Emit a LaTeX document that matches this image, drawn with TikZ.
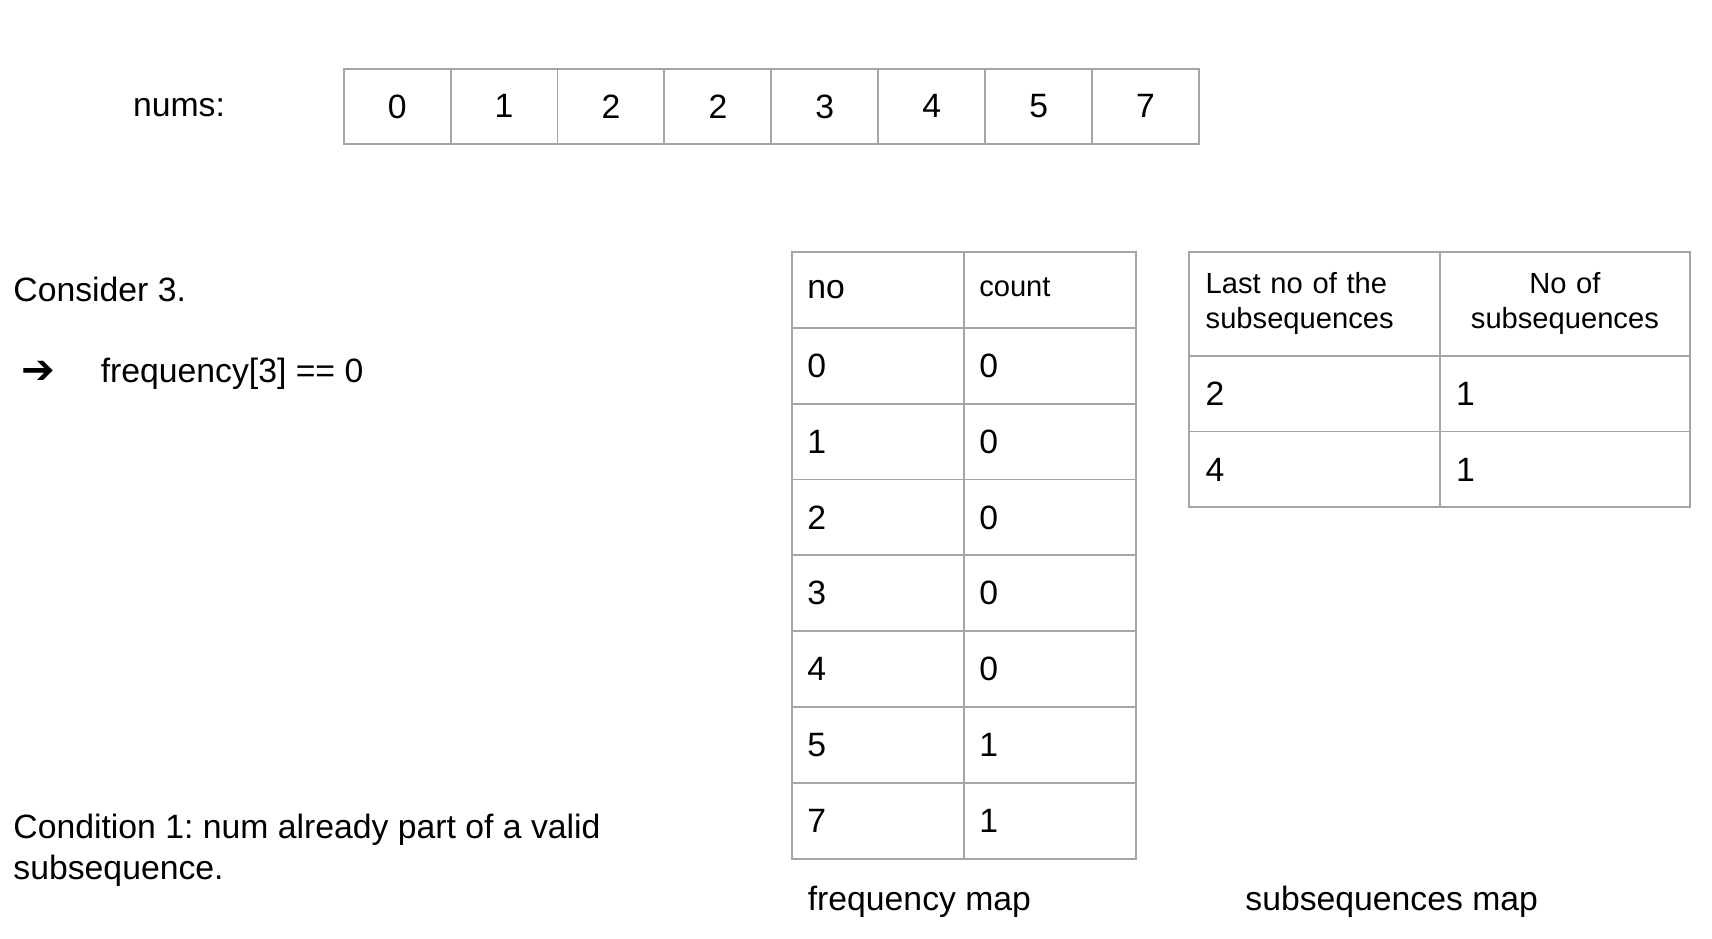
\documentclass[tikz,border=0pt]{standalone}
\usepackage{fontspec}
\setmainfont{Liberation Sans}
\newfontfamily\arrowfont{DejaVu Sans}
\usetikzlibrary{positioning}

\definecolor{gridgray}{RGB}{165,165,165}
\newcommand{\bigtext}{\fontsize{17.6}{21.6}\selectfont}
\newcommand{\smalltext}{\fontsize{15.2}{18.2}\selectfont}
\frenchspacing

\tikzset{
    label text/.style={inner sep=0pt, anchor=west, font=\bigtext},
    numcell/.style={draw=gridgray, line width=1pt, outer sep=0pt, inner sep=0pt,
        minimum width=1.96cm, minimum height=1.38cm, font=\bigtext},
    freqcell/.style={draw=gridgray, line width=1pt, outer sep=0pt, inner ysep=0pt,
        inner xsep=0.28cm, text width=2.59cm, align=left, minimum height=1.39cm, font=\bigtext},
    subcell/.style={draw=gridgray, line width=1pt, outer sep=0pt, inner ysep=0pt,
        inner xsep=0.3cm, text width=3.99cm, align=left, minimum height=1.39cm, font=\bigtext},
}

\begin{document}
\begin{tikzpicture}[x=0.02cm, y=-0.02cm, node distance=0pt]
    \useasboundingbox (0,0) rectangle (1569,860);

    % nums array
    \node[inner sep=0pt, font=\bigtext]         at (164,99)    (nums)   {nums:};
    \node[numcell, anchor=north west]           at (315,63)    (num 0)  {0};
    \node[numcell, right=of num 0]                             (num 1)  {1};
    \node[numcell, right=of num 1]                             (num 2)  {2};
    \node[numcell, right=of num 2]                             (num 3)  {2};
    \node[numcell, right=of num 3]                             (num 4)  {3};
    \node[numcell, right=of num 4]                             (num 5)  {4};
    \node[numcell, right=of num 5]                             (num 6)  {5};
    \node[numcell, right=of num 6]                             (num 7)  {7};

    % left notes
    \node[label text]                           at (12,265)    (consider) {Consider 3.};
    \node[inner sep=0pt, font=\arrowfont\fontsize{21}{24}\selectfont] at (35,341) (arrow) {➔};
    \node[label text]                           at (92,343)    (check)    {frequency[3] == 0};
    \node[label text, align=left]               at (12,779)    (cond)     {Condition 1: num already part of a valid\\subsequence.};

    % frequency map
    \node[freqcell, anchor=north west]          at (726,231)   (no head)    {no};
    \node[freqcell, right=of no head, font=\smalltext] (count head) {\raisebox{3pt}{count}};
    \node[freqcell, below=of no head]           (no 0)    {0};
    \node[freqcell, right=of no 0]              (count 0) {0};
    \node[freqcell, below=of no 0]              (no 1)    {1};
    \node[freqcell, right=of no 1]              (count 1) {0};
    \node[freqcell, below=of no 1]              (no 2)    {2};
    \node[freqcell, right=of no 2]              (count 2) {0};
    \node[freqcell, below=of no 2]              (no 3)    {3};
    \node[freqcell, right=of no 3]              (count 3) {0};
    \node[freqcell, below=of no 3]              (no 4)    {4};
    \node[freqcell, right=of no 4]              (count 4) {0};
    \node[freqcell, below=of no 4]              (no 5)    {5};
    \node[freqcell, right=of no 5]              (count 5) {1};
    \node[freqcell, below=of no 5]              (no 7)    {7};
    \node[freqcell, right=of no 7]              (count 7) {1};
    \node[label text]                           at (740,826)   (freq map) {frequency map};

    % subsequences map
    \node[subcell, anchor=north west, minimum height=1.9cm, font=\smalltext]
                                                at (1090,231)  (last head) {Last no of the\\subsequences};
    \node[subcell, right=of last head, minimum height=1.9cm, align=center, font=\smalltext]
                                                               (size head) {No of\\subsequences};
    \node[subcell, below=of last head]          (last 2)  {2};
    \node[subcell, right=of last 2]             (size 2)  {1};
    \node[subcell, below=of last 2]             (last 4)  {4};
    \node[subcell, right=of last 4]             (size 4)  {1};
    \node[label text]                           at (1141,826)  (sub map)  {subsequences map};
\end{tikzpicture}
\end{document}
